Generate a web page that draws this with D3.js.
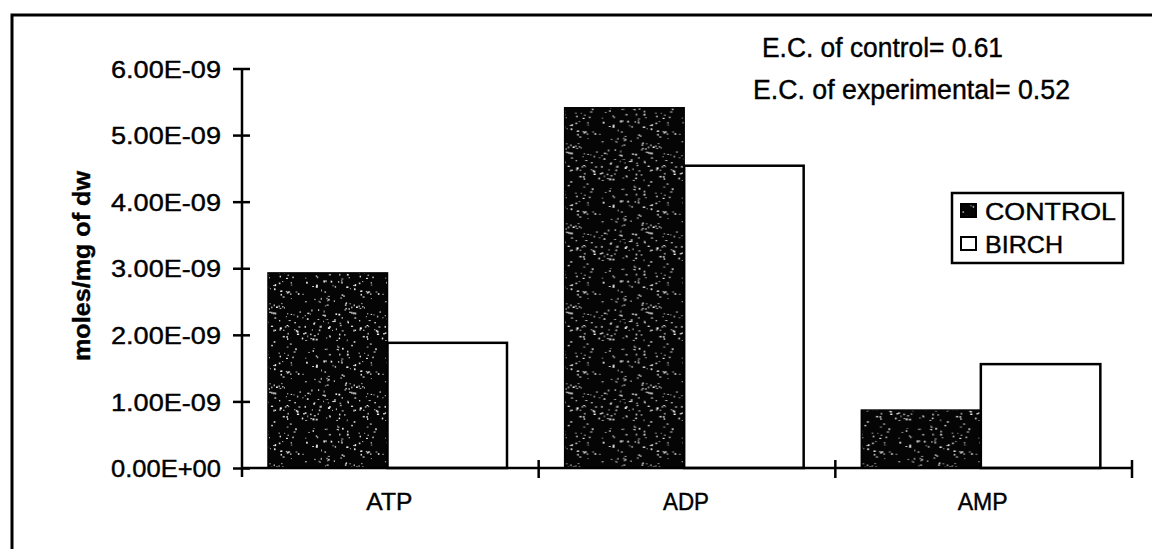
<!DOCTYPE html>
<html>
<head>
<meta charset="utf-8">
<script src="https://cdn.jsdelivr.net/npm/d3@7"></script>
<style>
  html, body { margin: 0; padding: 0; background: #fff; }
  svg { display: block; }
  text { font-family: Arial, "Liberation Sans", sans-serif; fill: #000; stroke: #000; stroke-width: 0.4; }
</style>
</head>
<body>
<svg id="chart" width="1152" height="549"></svg>
<script>
// Adenylate pools per mg dry weight
const categories = ["ATP", "ADP", "AMP"];
const seriesNames = ["CONTROL", "BIRCH"];
const controlValues = [2.93e-9, 5.41e-9, 0.87e-9];
const birchValues = [1.88e-9, 4.54e-9, 1.56e-9];
const yTicks = [0, 1e-9, 2e-9, 3e-9, 4e-9, 5e-9, 6e-9];
const yTickLabels = ["0.00E+00", "1.00E-09", "2.00E-09", "3.00E-09", "4.00E-09", "5.00E-09", "6.00E-09"];
const notes = ["E.C. of control= 0.61", "E.C. of experimental= 0.52"];

const rows = categories.map((c, i) => ({ cat: c, values: [controlValues[i], birchValues[i]] }));

const svg = d3.select("#chart");
const defs = svg.append("defs");

// Speckled dark fill: black tile sprinkled with small white grains (fixed hash sequence)
const tile = 80;
const pat = defs.append("pattern")
  .attr("id", "speckle").attr("patternUnits", "userSpaceOnUse")
  .attr("width", tile).attr("height", tile);
pat.append("rect").attr("width", tile).attr("height", tile).attr("fill", "#050505");
let seed = 20240611;
function rand() {
  seed |= 0; seed = seed + 0x6D2B79F5 | 0;
  let t = Math.imul(seed ^ seed >>> 15, 1 | seed);
  t = t + Math.imul(t ^ t >>> 7, 61 | t) ^ t;
  return ((t ^ t >>> 14) >>> 0) / 4294967296;
}
for (let k = 0; k < 190; k++) {
  pat.append("rect")
    .attr("x", rand() * tile).attr("y", rand() * tile)
    .attr("width", 0.9 + rand() * 1.3).attr("height", 0.9 + rand() * 1.1)
    .attr("fill", "#fff").attr("opacity", 0.55 + rand() * 0.45);
}

// Scales
const x0 = d3.scaleBand().domain(categories).range([242, 1132]).paddingInner(0).paddingOuter(0);
const x1 = d3.scaleBand().domain(seriesNames).range([26, 265]).padding(0);
const y = d3.scaleLinear().domain([0, 6e-9]).range([468, 68.5]);

// Outer frame (left and top edges visible)
svg.append("path")
  .attr("d", "M12,552 L12,15 L1156,15")
  .attr("fill", "none").attr("stroke", "#000").attr("stroke-width", 3);

// Bars
const groups = svg.append("g").selectAll("g").data(rows).join("g")
  .attr("transform", d => `translate(${x0(d.cat)},0)`);
groups.selectAll("rect")
  .data(d => d.values.map((v, i) => ({ key: seriesNames[i], v })))
  .join("rect")
  .attr("x", d => x1(d.key))
  .attr("y", d => y(d.v))
  .attr("width", x1.bandwidth())
  .attr("height", d => y(0) - y(d.v))
  .attr("fill", d => d.key === "CONTROL" ? "url(#speckle)" : "#fff")
  .attr("stroke", "#000")
  .attr("stroke-width", d => d.key === "CONTROL" ? 1.5 : 2.5);

// Y axis with ticks crossing the line
const yAxis = d3.axisLeft(y).tickValues(yTicks)
  .tickFormat((d, i) => yTickLabels[i]).tickSize(0).tickPadding(0);
const gy = svg.append("g").attr("transform", "translate(242,0)").call(yAxis);
gy.select(".domain").remove();
gy.selectAll(".tick text").remove();
gy.append("line").attr("x1", 0).attr("x2", 0).attr("y1", y(6e-9)).attr("y2", 477)
  .attr("stroke", "#000").attr("stroke-width", 2.5);
gy.selectAll(".tick").append("line")
  .attr("x1", -9).attr("x2", 8).attr("stroke", "#000").attr("stroke-width", 2.5);
gy.selectAll(".tick").append("text")
  .attr("x", -21).attr("dy", "0.36em")
  .attr("text-anchor", "end")
  .attr("font-size", 24)
  .attr("textLength", 110).attr("lengthAdjust", "spacingAndGlyphs")
  .text((d, i) => yTickLabels[i]);

// X axis with category boundary ticks
const gx = svg.append("g");
gx.append("line").attr("x1", 242).attr("x2", 1132).attr("y1", y(0)).attr("y2", y(0))
  .attr("stroke", "#000").attr("stroke-width", 2.5);
const bounds = categories.map(c => x0(c)).concat([x0.range()[1]]);
gx.selectAll("line.b").data(bounds.slice(1)).join("line").attr("class", "b")
  .attr("x1", d => d).attr("x2", d => d)
  .attr("y1", y(0) - 8).attr("y2", y(0) + 10)
  .attr("stroke", "#000").attr("stroke-width", 2.5);
gx.selectAll("text").data(categories).join("text")
  .attr("x", d => x0(d) + x0.bandwidth() / 2 - 1)
  .attr("y", 510)
  .attr("text-anchor", "middle")
  .attr("font-size", 24)
  .attr("textLength", (d, i) => [46, 46, 50][i]).attr("lengthAdjust", "spacingAndGlyphs")
  .text(d => d);

// Y axis title
svg.append("text")
  .attr("transform", "translate(90,266) rotate(-90)")
  .attr("text-anchor", "middle")
  .attr("font-size", 24)
  .attr("font-weight", "bold")
  .attr("textLength", 190).attr("lengthAdjust", "spacingAndGlyphs")
  .text("moles/mg of dw");

// Energy charge notes
svg.append("text").attr("x", 762).attr("y", 57).attr("font-size", 27)
  .attr("textLength", 241).attr("lengthAdjust", "spacingAndGlyphs").text(notes[0]);
svg.append("text").attr("x", 753).attr("y", 99).attr("font-size", 27)
  .attr("textLength", 317).attr("lengthAdjust", "spacingAndGlyphs").text(notes[1]);

// Legend
const lg = svg.append("g");
lg.append("rect").attr("x", 952).attr("y", 193).attr("width", 171).attr("height", 70)
  .attr("fill", "#fff").attr("stroke", "#000").attr("stroke-width", 2.5);
const legendRows = lg.selectAll("g").data(seriesNames).join("g")
  .attr("transform", (d, i) => `translate(0,${i * 33})`);
legendRows.append("rect")
  .attr("x", 961).attr("y", 204).attr("width", 15).attr("height", 13)
  .attr("fill", d => d === "CONTROL" ? "url(#speckle)" : "#fff")
  .attr("stroke", "#000").attr("stroke-width", 2);
legendRows.append("text")
  .attr("x", 985).attr("y", 220)
  .attr("font-size", 24)
  .attr("textLength", (d, i) => i === 0 ? 131 : 78)
  .attr("lengthAdjust", "spacingAndGlyphs")
  .text(d => d);
</script>
</body>
</html>
